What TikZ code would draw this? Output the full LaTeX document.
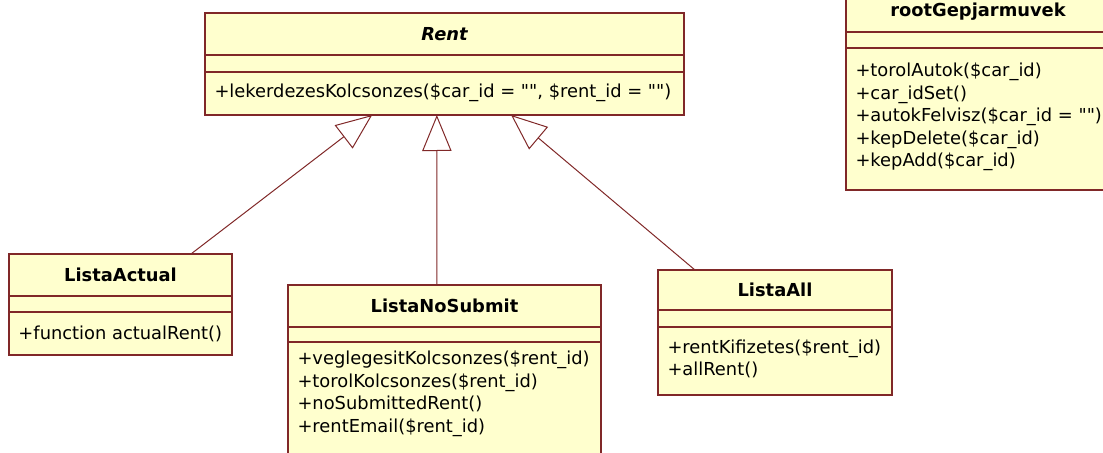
\documentclass[tikz,border=0pt]{standalone}
\usepackage{fontspec}
\setmainfont{DejaVu Sans}
\usetikzlibrary{arrows.meta,calc}
\definecolor{umlline}{RGB}{128,40,40}
\definecolor{umlfill}{RGB}{255,255,206}
\newcommand{\qq}{\textquotedbl\textquotedbl}
\tikzset{every picture/.style={line width=0.75pt}}
\tikzset{
  classbox/.style 2 args={draw=umlline, fill=umlfill, line width=1.2pt, rectangle, inner sep=0pt, outer sep=0pt, anchor=north west, minimum width=#1*0.75pt, minimum height=#2*0.75pt},
  classsep/.style={draw=umlline, line width=1.2pt},
  classname/.style={font=\fontsize{13.4}{15}\selectfont\bfseries, inner sep=0.75pt},
  members/.style={font=\fontsize{13.4}{16.9}\selectfont, align=left, anchor=west, inner sep=0.75pt},
  inherit/.style={draw=umlline, line width=0.75pt, -{Triangle[open, length=27pt, width=22pt]}},
}

\begin{document}
\begin{tikzpicture}[x=0.75pt,y=0.75pt,yscale=-1,xscale=1]
\useasboundingbox (0,0) rectangle (1103,453);
\clip (0,0) rectangle (1103,453);

%Shape: Class [id:rent]
\node[classbox={479}{102}] (rent) at (205,13) {};
\draw[classsep] (205,55) -- (684,55);
\draw[classsep] (205,72) -- (684,72);
%Shape: Class [id:root]
\node[classbox={264}{198}] (root) at (846,-8) {};
\draw[classsep] (846,32) -- (1110,32);
\draw[classsep] (846,48) -- (1110,48);
%Shape: Class [id:actual]
\node[classbox={223}{101}] (actual) at (9,254) {};
\draw[classsep] (9,296) -- (232,296);
\draw[classsep] (9,312) -- (232,312);
%Shape: Class [id:nosubmit]
\node[classbox={313}{180}] (nosubmit) at (288,285) {};
\draw[classsep] (288,327) -- (601,327);
\draw[classsep] (288,342) -- (601,342);
%Shape: Class [id:all]
\node[classbox={234}{125}] (all) at (658,270) {};
\draw[classsep] (658,310) -- (892,310);
\draw[classsep] (658,327) -- (892,327);

%Inheritance lines
\draw[inherit] ($(actual.north west)!0.816!(actual.north east)$) -- ($(rent.south west)!0.349!(rent.south east)$);
\draw[inherit] ($(nosubmit.north west)!0.476!(nosubmit.north east)$) -- ($(rent.south west)!0.484!(rent.south east)$);
\draw[inherit] ($(all.north west)!0.158!(all.north east)$) -- ($(rent.south west)!0.639!(rent.south east)$);

% Text Node
\node[classname] (rent-name) at (444.5,34) {\itshape Rent};
% Text Node
\node[members] (rent-ops) at (213,93) {+lekerdezesKolcsonzes(\$car\_id = \qq, \$rent\_id = \qq)};
% Text Node
\node[classname] (root-name) at (978,12) {rootGepjarmuvek};
% Text Node
\node[members] (root-ops) at (854,117) {+torolAutok(\$car\_id)\\+car\_idSet()\\+autokFelvisz(\$car\_id = \qq)\\+kepDelete(\$car\_id)\\+kepAdd(\$car\_id)};
% Text Node
\node[classname] (actual-name) at (120.5,275) {ListaActual};
% Text Node
\node[members] (actual-ops) at (17,334) {+function actualRent()};
% Text Node
\node[classname] (nosubmit-name) at (444.5,306) {ListaNoSubmit};
% Text Node
\node[members] (nosubmit-ops) at (296,394) {+veglegesitKolcsonzes(\$rent\_id)\\+torolKolcsonzes(\$rent\_id)\\+noSubmittedRent()\\+rentEmail(\$rent\_id)};
% Text Node
\node[classname] (all-name) at (775,290) {ListaAll};
% Text Node
\node[members] (all-ops) at (666,359) {+rentKifizetes(\$rent\_id)\\+allRent()};

\end{tikzpicture}
\end{document}
